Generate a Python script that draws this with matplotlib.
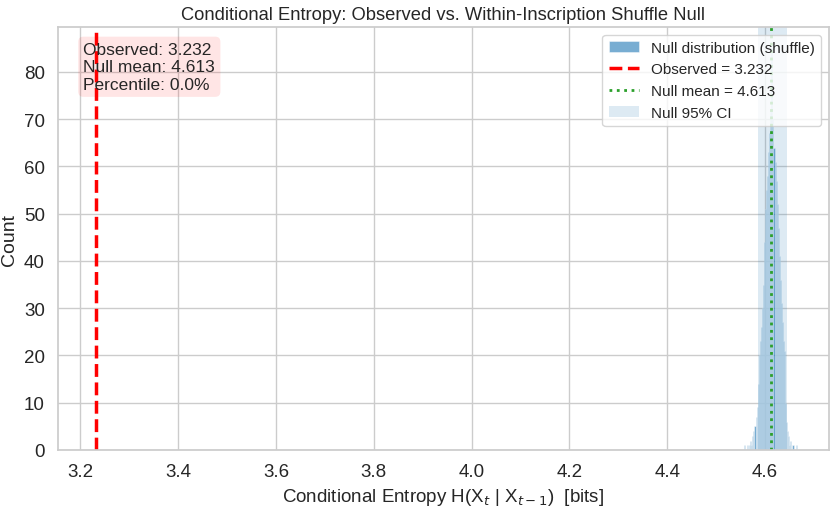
import numpy as np
import matplotlib
matplotlib.use("Agg")
import matplotlib.pyplot as plt
import seaborn as sns

# ---- data ----
observed = 3.232
null_mean = 4.613
percentile = 0.0
ci_low, ci_high = 4.586, 4.645
hist_range = (4.557, 4.665)
null_counts = [1, 0, 0, 1, 0, 1, 2, 1, 3, 4,
               5, 7, 9, 14, 20, 23, 26, 30, 35, 44,
               51, 55, 58, 63, 67, 72, 85, 70, 64, 61,
               57, 52, 47, 41, 36, 31, 27, 23, 21, 10,
               6, 4, 3, 1, 2, 0, 1, 0, 0, 1]

sns.set_theme(style="whitegrid")
plt.rcParams['font.family'] = ['Liberation Sans', 'DejaVu Sans']

fig, ax = plt.subplots(figsize=(8.37, 5.10), dpi=100)

edges = np.linspace(hist_range[0], hist_range[1], len(null_counts) + 1)
centers = (edges[:-1] + edges[1:]) / 2
ax.hist(centers, bins=edges, weights=null_counts, color='#1f77b4', alpha=0.6,
        edgecolor='white', linewidth=0.5, label='Null distribution (shuffle)')
ax.axvline(observed, color='red', linestyle='--', linewidth=2.5,
           label=f'Observed = {observed:.3f}')
ax.axvline(null_mean, color='#2ca02c', linestyle=':', linewidth=2,
           label=f'Null mean = {null_mean:.3f}')
ax.axvspan(ci_low, ci_high, facecolor='#1f77b4', edgecolor='none', alpha=0.15,
           label='Null 95% CI')

ax.set_xlim(3.154, 4.731)
ax.set_ylim(0, 89.5)
ax.set_xticks([3.2, 3.4, 3.6, 3.8, 4.0, 4.2, 4.4, 4.6])
ax.tick_params(labelsize=13.5)

ax.set_xlabel(r'Conditional Entropy H(X$_t$ | X$_{t-1}$)  [bits]', fontsize=13.5)
ax.set_ylabel('Count', fontsize=14)
ax.set_title('Conditional Entropy: Observed vs. Within-Inscription Shuffle Null', fontsize=13.2)

ax.text(0.033, 0.965,
        f'Observed: {observed:.3f}\nNull mean: {null_mean:.3f}\nPercentile: {percentile:.1f}%',
        transform=ax.transAxes, va='top', ha='left', fontsize=12.5,
        bbox=dict(boxstyle='round', facecolor='red', alpha=0.1, edgecolor='none'))

ax.legend(loc='upper right', fontsize=11, framealpha=0.8)

fig.subplots_adjust(left=0.0693, right=0.9904, top=0.945, bottom=0.1157)
fig.savefig('out.png', dpi=100)
